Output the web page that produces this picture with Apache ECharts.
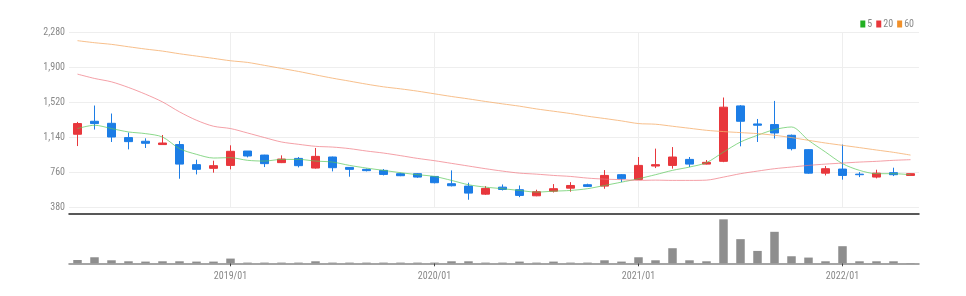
<!DOCTYPE html>
<html><head><meta charset="utf-8">
<script src="https://cdn.jsdelivr.net/npm/echarts@6/dist/echarts.min.js"></script>
<style>html,body{margin:0;padding:0;background:#fff}#c{width:966px;height:296px}</style>
</head><body><div id="c"></div>
<script>
const categories = ['2018/04','2018/05','2018/06','2018/07','2018/08','2018/09','2018/10','2018/11','2018/12',
'2019/01','2019/02','2019/03','2019/04','2019/05','2019/06','2019/07','2019/08','2019/09','2019/10','2019/11','2019/12',
'2020/01','2020/02','2020/03','2020/04','2020/05','2020/06','2020/07','2020/08','2020/09','2020/10','2020/11','2020/12',
'2021/01','2021/02','2021/03','2021/04','2021/05','2021/06','2021/07','2021/08','2021/09','2021/10','2021/11','2021/12',
'2022/01','2022/02','2022/03','2022/04','2022/05'];
// [open, close, low, high]
const candles = [
[1173,1289,1045,1307],[1314,1289,1224,1485],[1292,1143,1089,1398],[1137,1093,1009,1191],[1097,1075,1024,1129],
[1061,1078,1061,1165],[1061,849,690,1100],[843,792,737,897],[803,832,756,886],[835,988,792,1053],
[991,937,922,991],[947,854,817,950],[865,904,860,944],[911,832,813,926],[806,933,800,1024],
[926,810,770,930],[813,792,712,813],[792,778,770,800],[781,737,726,795],[745,723,718,755],
[745,708,700,750],[715,647,640,718],[636,614,607,781],[610,534,462,647],[523,585,515,610],
[599,574,563,628],[571,509,490,617],[505,549,500,571],[555,582,541,632],[588,617,549,653],
[625,607,600,636],[610,726,581,784],[734,690,653,740],[683,835,676,926],[828,843,806,1017],
[835,926,800,1034],[900,849,817,926],[849,868,845,893],[879,1467,870,1572],[1481,1314,1042,1490],
[1285,1271,1089,1339],[1278,1187,1126,1535],[1162,1017,998,1170],[1006,751,745,1010],[751,799,726,828],
[795,726,680,1061],[740,734,708,762],[708,751,694,788],[756,734,719,810],[726,745,723,748]];
const ma5 = [1235,1271,1235,1198,1180,1143,1017,955,915,919,890,882,900,900,882,871,835,806,781,756,734,715,672,625,599,582,563,545,555,563,582,617,653,690,734,781,817,865,980,1089,1162,1224,1252,1107,980,854,781,745,745,734];
const ma20 = [1826,1779,1742,1681,1608,1524,1416,1325,1260,1235,1187,1137,1089,1064,1042,1034,1017,991,969,941,911,886,857,828,799,773,751,740,726,715,697,686,680,672,675,672,672,675,708,745,773,799,817,835,849,860,871,879,890,897];
const ma60 = [2189,2167,2149,2123,2098,2076,2047,2022,1997,1971,1953,1921,1888,1855,1818,1782,1750,1717,1688,1666,1641,1612,1583,1557,1529,1503,1478,1448,1423,1398,1369,1344,1318,1289,1282,1260,1238,1216,1202,1191,1180,1162,1137,1107,1078,1053,1028,1002,977,947];
const volume = [33000,60000,30000,20000,17000,20000,20000,17000,17000,47000,7000,7000,7000,7000,20000,7000,7000,7000,7000,7000,7000,7000,20000,20000,7000,7000,17000,7000,17000,7000,7000,30000,17000,60000,30000,150000,30000,20000,437000,240000,123000,313000,70000,57000,20000,170000,20000,20000,20000,3000];
const yTicks = [380, 760, 1140, 1520, 1900, 2280];
const yearMarks = ['2019/01', '2020/01', '2021/01', '2022/01'];

const FONT = "'Liberation Sans Narrow','Roboto Condensed','Noto Sans',sans-serif";
const isJan = (i, v) => (v || categories[i]).endsWith('/01');
const chart = echarts.init(document.getElementById('c'), null, {renderer: 'canvas'});
chart.setOption({
  animation: false,
  textStyle: {fontFamily: FONT},
  legend: {
    right: 47, top: 14, itemWidth: 5, itemHeight: 7, itemGap: 4,
    icon: 'rect',
    textStyle: {color: '#888', fontSize: 10, fontFamily: FONT, padding: [0, 0, 0, -3]},
    data: ['5', '20', '60']
  },
  grid: [
    {left: 69, right: 47, top: 32.3, bottom: 88.7},
    {left: 69, right: 47, top: 213, bottom: 32.7}
  ],
  xAxis: [
    {type: 'category', data: categories, gridIndex: 0, offset: 6,
     axisLine: {show: true, lineStyle: {color: '#222', width: 1.5}},
     axisTick: {show: false}, axisLabel: {show: false},
     splitLine: {show: false}},
    {type: 'category', data: categories, gridIndex: 1,
     axisLine: {show: true, lineStyle: {color: '#888', width: 1.5}},
     axisTick: {show: true, alignWithLabel: true, interval: (i, v) => isJan(i, v), length: 3, lineStyle: {color: '#444'}},
     axisLabel: {interval: (i, v) => isJan(i, v), color: '#888', fontSize: 10, margin: 8, fontFamily: FONT},
     splitLine: {show: false}}
  ],
  yAxis: [
    {type: 'value', gridIndex: 0, min: yTicks[0], max: yTicks[yTicks.length - 1], interval: 380,
     axisLine: {show: false}, axisTick: {show: false},
     axisLabel: {color: '#888', fontSize: 10, margin: 4, fontFamily: FONT,
       formatter: v => v.toLocaleString('en-US')},
     splitLine: {lineStyle: {color: '#eeeeee'}}},
    {type: 'value', gridIndex: 1, min: 0, max: 500000, show: false, splitLine: {show: false}}
  ],
  series: [
    {type: 'candlestick', name: 'K', data: candles, xAxisIndex: 0, yAxisIndex: 0, barWidth: 8.5,
     itemStyle: {color: '#e8373c', color0: '#1c7de6', borderColor: '#e8373c', borderColor0: '#1c7de6', borderWidth: 1},
     markLine: {silent: true, symbol: 'none', label: {show: false}, z: 0,
       lineStyle: {color: '#eeeeee', type: 'solid', width: 1},
       data: yearMarks.map(m => ({xAxis: m}))}},
    {type: 'line', name: '5', data: ma5, smooth: 0.3, showSymbol: false, symbol: 'none',
     itemStyle: {color: '#22b022'}, lineStyle: {color: 'rgba(90,200,90,0.7)', width: 1}, z: 3},
    {type: 'line', name: '20', data: ma20, smooth: 0.3, showSymbol: false, symbol: 'none',
     itemStyle: {color: '#e8373c'}, lineStyle: {color: 'rgba(240,120,130,0.7)', width: 1}, z: 3},
    {type: 'line', name: '60', data: ma60, smooth: 0.3, showSymbol: false, symbol: 'none',
     itemStyle: {color: '#f0902a'}, lineStyle: {color: 'rgba(245,175,110,0.8)', width: 1}, z: 3},
    {type: 'bar', name: 'vol', data: volume, xAxisIndex: 1, yAxisIndex: 1, barWidth: 8.5,
     itemStyle: {color: '#8e8e8e'}}
  ]
});
</script></body></html>
